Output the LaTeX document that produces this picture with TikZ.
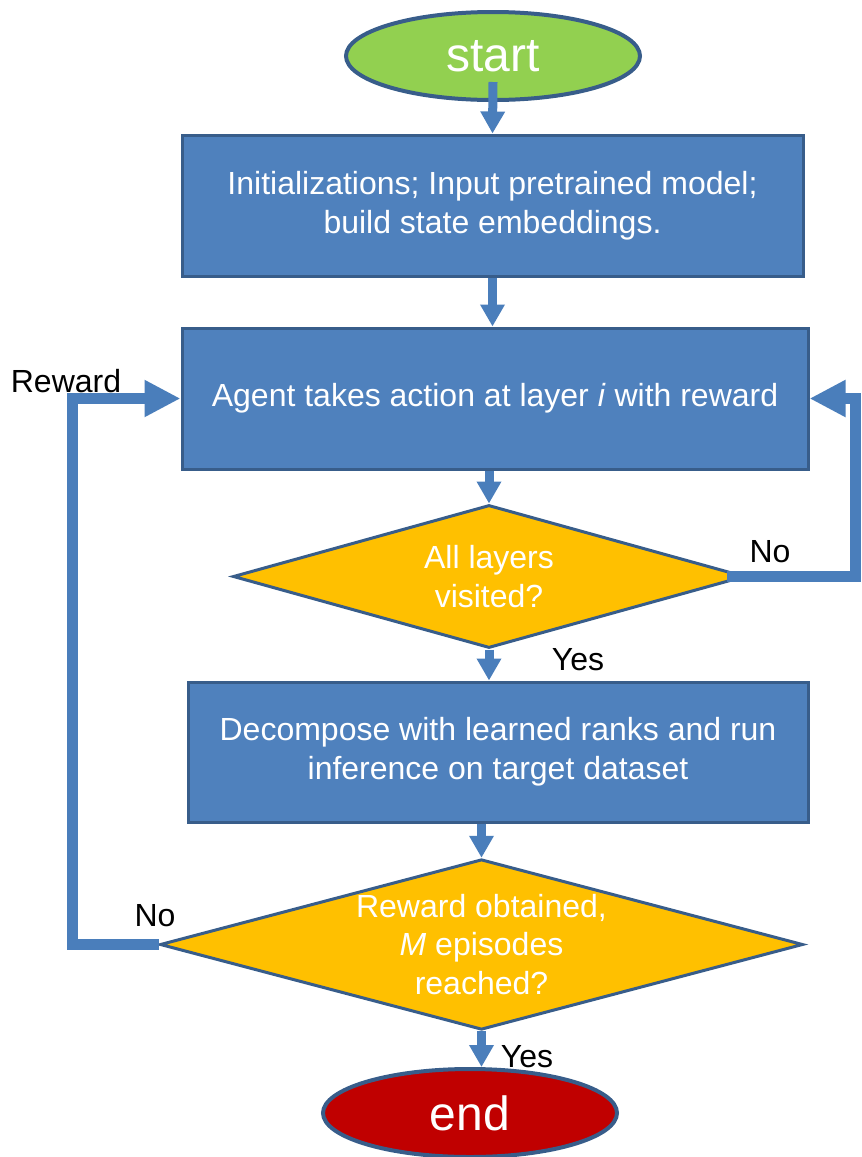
\documentclass[tikz,border=0pt]{standalone}
\usepackage{fontspec}
\setmainfont{Liberation Sans}
\usepackage{tikz}
\usetikzlibrary{arrows.meta,shapes.geometric}

\definecolor{startgreen}{HTML}{92D050}
\definecolor{endred}{HTML}{C00000}
\definecolor{decgold}{HTML}{FFC000}
\definecolor{boxblue}{HTML}{4F81BD}
\definecolor{edgeblue}{HTML}{385D8A}
\definecolor{arrowblue}{HTML}{4A7EBB}

\begin{document}
\begin{tikzpicture}[x=0.75pt, y=-0.75pt,
		procbox/.style={rectangle, draw=edgeblue, fill=boxblue, line width=2.25pt, text=white, align=center,
			inner sep=0pt, font=\fontsize{24pt}{29pt}\selectfont},
		decbox/.style={diamond, aspect=3.6, draw=edgeblue, fill=decgold, line width=2.25pt, text=white, align=center,
			inner sep=0pt, font=\fontsize{24pt}{29pt}\selectfont},
		termbox/.style={ellipse, draw=edgeblue, line width=3pt, text=white, inner sep=0pt,
			minimum width=220.5pt, minimum height=66pt, font=\fontsize{36pt}{40pt}\selectfont},
		vflow/.style={arrowblue, line width=6.75pt, -{Triangle[length=16.5pt, width=17.5pt]}},
		lflow/.style={arrowblue, line width=8.25pt, -{Triangle[length=27pt, width=26pt]}},
		lbl/.style={font=\fontsize{24pt}{28pt}\selectfont}]
		\useasboundingbox (0, 0) rectangle (861, 1157);

		\node[termbox, fill=startgreen] (start) at (493, 56) {start};
		\node[procbox, minimum width=465.75pt, minimum height=105.75pt] (b1) at (492.5, 205.5)
			{Initializations; Input pretrained model;\\build state embeddings.};
		\node[procbox, minimum width=469.5pt, minimum height=105.75pt] (b2) at (495, 398.5)
			{Agent takes action at layer \textit{i} with reward};
		\node[decbox, minimum width=384pt, minimum height=107.25pt] (d1) at (489, 576.5)
			{All layers\\visited?};
		\node[procbox, minimum width=465pt, minimum height=105pt] (b3) at (498, 752)
			{Decompose with learned ranks and run\\inference on target dataset};
		\node[decbox, minimum width=482.25pt, minimum height=123.75pt] (d2) at (481.5, 944.5)
			{Reward obtained,\\\textit{M} episodes\\reached?};
		\node[termbox, fill=endred] (end) at (470, 1113) {end};

		\draw[vflow] ([yshift=15pt]start.south) -- (b1.north);
		\draw[vflow] (b1.south) -- (b1.south |- b2.north);
		\draw[vflow] (b2.south -| d1.north) -- (d1.north);
		\draw[vflow] (d1.south) -- (d1.south |- b3.north);
		\draw[vflow] (b3.south -| d2.north) -- (d2.north);
		\draw[vflow] (d2.south) -- (d2.south |- end.north);

		\coordinate (rgt) at (855, 576.5);
		\coordinate (lft) at (72, 944.5);
		\draw[lflow] ([xshift=-15pt]d1.east) -- (rgt) |- (b2.east);
		\draw[lflow] (d2.west) -- (lft) |- (b2.west);

		\node[lbl] (noright) at (770, 552) {No};
		\node[lbl] (yesupper) at (578, 660) {Yes};
		\node[lbl] (noleft) at (155, 916) {No};
		\node[lbl] (reward) at (66, 381) {Reward};
		\node[lbl] (yeslower) at (527, 1057) {Yes};
	\end{tikzpicture}
\end{document}
